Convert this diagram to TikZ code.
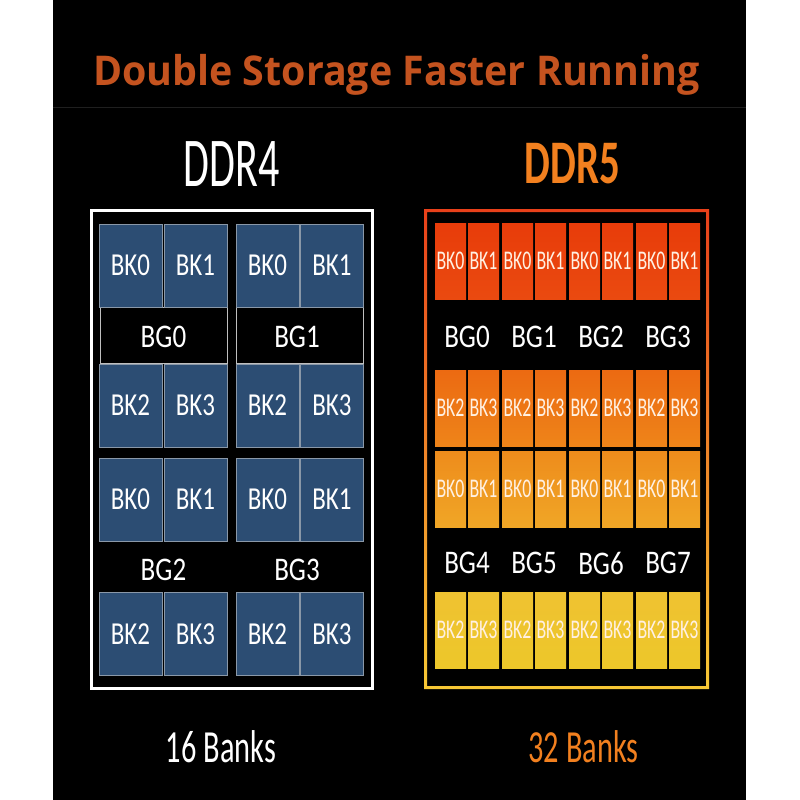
\documentclass[tikz,border=0pt]{standalone}
\usepackage{fontspec}
\setmainfont{Carlito}
\newfontfamily\titlefont[FakeStretch=0.96]{Open Sans}
\newfontfamily\fHead[FakeStretch=0.60]{Carlito}
\newfontfamily\fBanks[FakeStretch=0.66]{Carlito}
\newfontfamily\fFive[FakeStretch=0.66]{Carlito}
\newfontfamily\fBKfour[FakeStretch=0.78]{Carlito}
\newfontfamily\fBG[FakeStretch=0.82]{Carlito}
\newfontfamily\fBKfive[FakeStretch=0.66]{Carlito}
\definecolor{ttl}{HTML}{C4531F}
\definecolor{ddrblue}{HTML}{2C4D73}
\definecolor{cellborder}{HTML}{8A98A8}
\definecolor{rAt}{HTML}{E83C0A}\definecolor{rAb}{HTML}{EA4A10}
\definecolor{rBt}{HTML}{EC6A12}\definecolor{rBb}{HTML}{EE8419}
\definecolor{rCt}{HTML}{EE8C1C}\definecolor{rCb}{HTML}{F0A626}
\definecolor{rDt}{HTML}{EFC231}\definecolor{rDb}{HTML}{EDC72A}
\definecolor{gradtop}{HTML}{E8401A}
\definecolor{gradbot}{HTML}{F7C835}
\definecolor{fiveorange}{HTML}{F2801F}
\definecolor{fivetxt}{HTML}{FFF0E2}
\begin{document}
\begin{tikzpicture}[x=1pt,y=-1pt,
  bkfour/.style={draw=cellborder, line width=0.8pt, fill=ddrblue, minimum width=63pt, minimum height=83pt, inner sep=0pt, text=white, font=\fBKfour\fontsize{32}{32}\selectfont},
  bkfive/.style={line width=0pt, minimum width=31pt, minimum height=76pt, inner sep=0pt, text=fivetxt, font=\fBKfive\fontsize{27}{27}\selectfont},
  bglabel/.style={inner sep=0pt, text=white, font=\fBG\fontsize{33}{33}\selectfont},
  bgband/.style={draw=white!75!black, line width=0.8pt, fill=black, minimum width=127pt, minimum height=56pt, inner sep=0pt},
  head/.style={inner sep=0pt, anchor=base}]
% background
\fill[white] (0,0) rectangle (800,800);
\fill[black] (53,0) rectangle (746,800);
\draw[color=white!12!black, line width=1pt] (53,107) -- (746,107);
% title
\node[head, text=ttl, font=\titlefont\bfseries\fontsize{41}{41}\selectfont] (title) at (396.5,85) {Double Storage Faster Running};
% DDR4
\node[head, text=white, font=\fHead\fontsize{70}{70}\selectfont] (ddr4) at (231.5,186) {DDR4};
\draw[white, line width=3pt] (91,210) rectangle (372,688);
\node[bgband] (band0) at (163.5,335) {};
\node[bgband] (band1) at (299.5,335) {};
\foreach \r/\y/\a/\b in {1/265.5/0/1, 2/405.5/2/3, 3/499.5/0/1, 4/634/2/3}{
  \node[bkfour] (da\r) at (130.5,\y) {BK\a};
  \node[bkfour] (db\r) at (195.5,\y) {BK\b};
  \node[bkfour] (dc\r) at (267.5,\y) {BK\a};
  \node[bkfour] (dd\r) at (332,\y) {BK\b};
}
\node[bglabel] (bg40) at (163.5,337) {BG0};
\node[bglabel] (bg41) at (297,337) {BG1};
\node[bglabel] (bg42) at (163.5,570) {BG2};
\node[bglabel] (bg43) at (297,570) {BG3};
\node[head, text=white, font=\fBanks\fontsize{46}{46}\selectfont] (b16) at (221,762) {16 Banks};
% DDR5
\node[head, text=fiveorange, font=\fFive\bfseries\fontsize{62}{62}\selectfont] (ddr5) at (572.5,183) {DDR5};
\shade[even odd rule, top color=gradtop, bottom color=gradbot] (424,209) rectangle (709,689) (427,212) rectangle (706,686);
\foreach \r/\y/\a/\b/\ct/\cb in {1/261/0/1/rAt/rAb, 2/408/2/3/rBt/rBb, 3/489/0/1/rCt/rCb, 4/630/2/3/rDt/rDb}{
  \foreach \p/\s in {1/435, 2/502, 3/569, 4/636}{
    \node[bkfive, top color=\ct, bottom color=\cb] (e\r\p a) at (\s+15.5,\y) {BK\a};
    \node[bkfive, top color=\ct, bottom color=\cb] (e\r\p b) at (\s+48.5,\y) {BK\b};
  }
}
\foreach \n/\x in {0/467, 1/534, 2/601, 3/668}{
  \node[bglabel] (bg5\n) at (\x,337) {BG\n};
}
\foreach \n/\x in {4/467, 5/534, 6/601, 7/668}{
  \node[bglabel] (bg5\n) at (\x,563) {BG\n};
}
\node[head, text=fiveorange, font=\fBanks\fontsize{46}{46}\selectfont] (b32) at (583.5,762) {32 Banks};
\end{tikzpicture}
\end{document}
